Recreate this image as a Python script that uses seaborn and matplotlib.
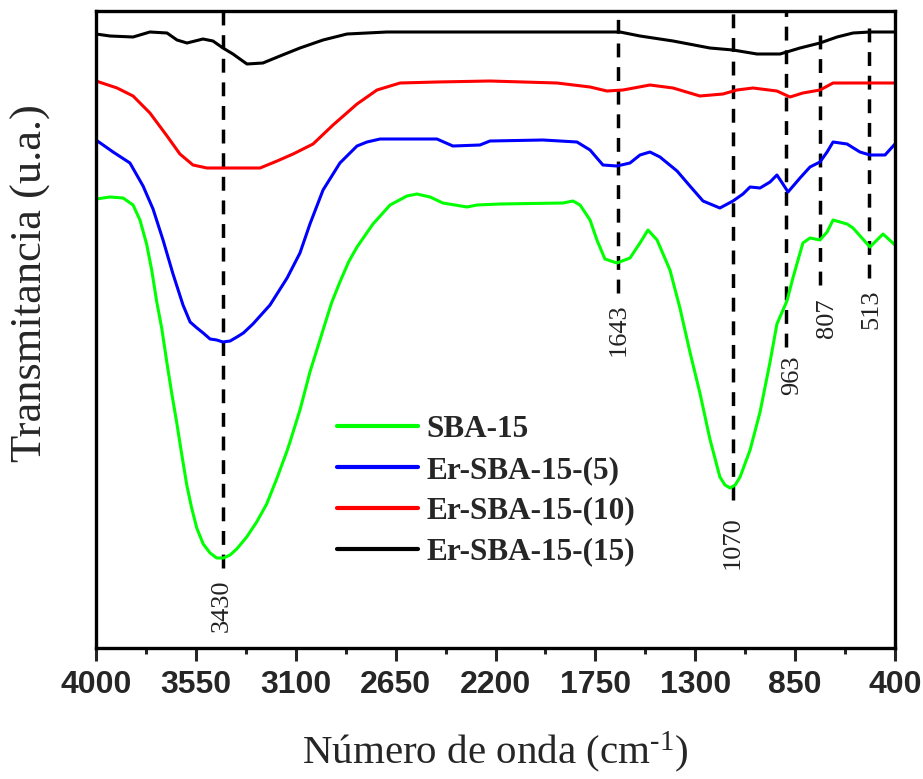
import matplotlib
matplotlib.use("Agg")
import matplotlib.pyplot as plt
import numpy as np
import pandas as pd
import seaborn as sns

# ---------------- data ----------------
series_names = ["SBA-15", "Er-SBA-15-(5)", "Er-SBA-15-(10)", "Er-SBA-15-(15)"]
series_colors = ["#00ff00", "#0000ff", "#ff0000", "#000000"]

wn_sba = [4000, 3937, 3878, 3833, 3802, 3772, 3749, 3727, 3704, 3681, 3659, 3636,
          3614, 3591, 3569, 3546, 3517, 3486, 3456, 3426, 3396, 3366, 3321, 3276,
          3231, 3186, 3141, 3126, 3081, 3036, 2977, 2939, 2901, 2862, 2824, 2752,
          2675, 2599, 2554, 2495, 2437, 2328, 2283, 2180, 1896, 1851, 1819, 1774,
          1743, 1707, 1653, 1594, 1549, 1513, 1472, 1414, 1369, 1324, 1279, 1234,
          1189, 1166, 1143, 1120, 1098, 1053, 1008, 963, 932, 887, 860, 815, 783,
          738, 706, 679, 616, 589, 513, 454, 400]
t_sba = [449, 451, 450, 443, 428, 404, 378, 347, 320, 286, 255, 225,
         194, 163, 140, 120, 104, 95, 90, 90, 93, 99, 111, 126,
         144, 169, 196, 206, 238, 276, 318, 345, 366, 386, 401, 424,
         443, 452, 454, 451, 445, 441, 443, 444, 445, 447, 443, 428,
         408, 389, 385, 390, 405, 418, 408, 378, 340, 296, 255, 209,
         171, 163, 160, 163, 171, 198, 236, 286, 324, 347, 370, 405, 410,
         408, 416, 428, 424, 420, 401, 414, 403]

wn_er5 = [4000, 3923, 3847, 3788, 3743, 3698, 3653, 3608, 3576, 3545, 3517, 3486,
          3456, 3428, 3396, 3365, 3336, 3293, 3216, 3139, 3081, 3036, 2977, 2901,
          2824, 2779, 2720, 2464, 2392, 2270, 2225, 1986, 1833, 1774, 1716, 1653,
          1594, 1549, 1504, 1459, 1382, 1324, 1265, 1189, 1130, 1085, 1053, 1008,
          963, 932, 905, 882, 828, 783, 738, 706, 679, 616, 558, 513, 445, 400]
t_er5 = [508, 496, 485, 462, 439, 408, 374, 343, 326, 320, 315, 309,
         308, 306, 307, 311, 315, 324, 343, 370, 395, 424, 458, 485,
         502, 506, 509, 509, 502, 503, 507, 508, 506, 498, 483, 482,
         485, 493, 496, 491, 477, 462, 447, 440, 447, 454, 461, 460,
         466, 473, 464, 456, 470, 481, 486, 496, 506, 504, 496, 493, 493, 504]

wn_er10 = [4000, 3905, 3833, 3757, 3680, 3622, 3563, 3500, 3261, 3184, 3112, 3022,
           2932, 2824, 2734, 2630, 2464, 2225, 1923, 1774, 1698, 1626, 1504, 1400,
           1279, 1175, 1112, 1040, 932, 873, 815, 738, 679, 400]
t_er10 = [567, 560, 552, 535, 512, 494, 483, 480, 480, 487, 494, 504,
          523, 544, 558, 565, 566, 567, 565, 561, 557, 558, 563, 560,
          552, 554, 558, 560, 557, 551, 555, 558, 565, 565]

wn_er15 = [4000, 3937, 3833, 3757, 3680, 3635, 3590, 3518, 3473, 3428, 3383, 3320,
           3248, 3171, 3081, 2977, 2869, 2689, 1639, 1549, 1400, 1234, 1130, 1022,
           918, 828, 738, 661, 589, 513, 400]
t_er15 = [614, 612, 611, 616, 615, 608, 605, 609, 607, 600, 594, 584,
          585, 592, 600, 608, 614, 616, 616, 612, 607, 600, 598, 594,
          594, 600, 605, 611, 615, 616, 616]

peak_labels = ["3430", "1643", "1070", "963", "807", "513"]
peak_line_x = [3430, 1648, 1132, 891, 738, 517]

x_ticks = [4000, 3550, 3100, 2650, 2200, 1750, 1300, 850, 400]

# ---------------- layout (not data) ----------------
line_top = [637, 637, 637, 637, 622, 623]
line_bottom = [80, 355, 148, 301, 363, 370]
label_x = [3432, 1644, 1130, 864, 706, 508]
label_y = [42, 318, 105, 273, 330, 339]

frames = []
for name, wn, t in [(series_names[0], wn_sba, t_sba),
                    (series_names[1], wn_er5, t_er5),
                    (series_names[2], wn_er10, t_er10),
                    (series_names[3], wn_er15, t_er15)]:
    frames.append(pd.DataFrame({"wn": wn, "T": t, "sample": name}))
df = pd.concat(frames, ignore_index=True)

sns.set_style("white")
plt.rcParams["font.family"] = ["Liberation Serif", "DejaVu Serif"]
plt.rcParams["mathtext.fontset"] = "custom"
plt.rcParams["mathtext.rm"] = "Liberation Serif"
plt.rcParams["mathtext.it"] = "Liberation Serif:italic"

fig = plt.figure(figsize=(9.23, 7.79), dpi=100)
ax = fig.add_axes([96 / 923, 1 - 648 / 779, 799 / 923, 637 / 779])

sns.lineplot(data=df, x="wn", y="T", hue="sample", hue_order=series_names,
             palette=series_colors, estimator=None, linewidth=2.2, ax=ax,
             legend=True, solid_joinstyle="round", solid_capstyle="round")

# peak marker lines and labels
for px, yt, yb in zip(peak_line_x, line_top, line_bottom):
    ax.plot([px, px], [yb, yt], color="black", lw=2.5, ls=(0, (4, 2.8)),
            zorder=1)
for lab, lx, ly in zip(peak_labels, label_x, label_y):
    ax.text(lx, ly, lab, rotation=90, ha="center", va="center",
            fontsize=19, family="Liberation Serif", color="#222222")

ax.set_xlim(4000, 400)
ax.set_ylim(0, 637)
ax.set_xticks(x_ticks)
ax.set_xticks([v - 225 for v in x_ticks[:-1]], minor=True)
ax.set_yticks([])
ax.tick_params(axis="x", which="major", direction="out", length=9, width=2.2,
               pad=7, labelsize=23, bottom=True)
ax.tick_params(axis="x", which="minor", direction="out", length=4, width=2.2,
               bottom=True)
for lbl in ax.get_xticklabels():
    lbl.set_family("Liberation Sans")
    lbl.set_weight("bold")
for sp in ax.spines.values():
    sp.set_linewidth(2.4)
    sp.set_color("black")

ax.set_xlabel(r"Número de onda (cm$^{\text{-1}}$)", fontsize=29.5)
ax.xaxis.set_label_coords(0.5, -0.128)
ax.xaxis.label.set_va("top")
ax.set_ylabel("Transmitancia (u.a.)", fontsize=32)
ax.yaxis.set_label_coords(-0.056, 0.573)

old = ax.get_legend()
handles = old.legend_handles
labels = [t.get_text() for t in old.get_texts()]
old.remove()
for h, c in zip(handles, series_colors):
    h.set_linewidth(3)
    h.set_color(c)
ax.legend(handles, labels, loc="upper left", bbox_to_anchor=(0.3016, 0.366),
          frameon=False, prop={"family": "Liberation Serif", "weight": "bold",
                                "size": 22.5},
          handlelength=2.6, handletextpad=0.27, labelspacing=0.38,
          borderpad=0, borderaxespad=0)

fig.savefig("out.png", dpi=100)
